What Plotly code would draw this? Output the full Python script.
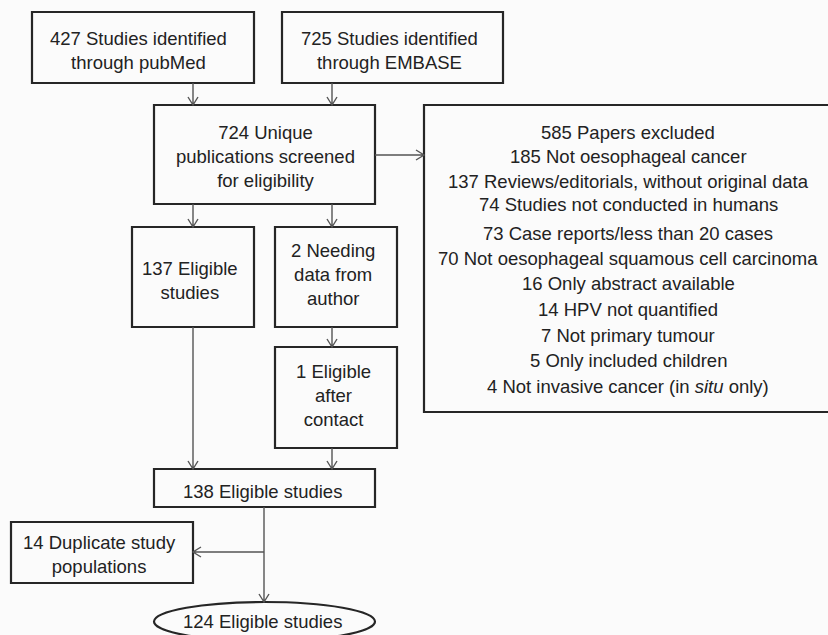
import plotly.graph_objects as go

# ---- content (text of the flow diagram) ----
pubmed_text = ["427 Studies identified", "through pubMed"]
embase_text = ["725 Studies identified", "through EMBASE"]
unique_text = ["724 Unique", "publications screened", "for eligibility"]
elig137_text = ["137 Eligible", "studies"]
needing_text = ["2 Needing", "data from", "author"]
after_text = ["1 Eligible", "after", "contact"]
elig138_text = ["138 Eligible studies"]
dup_text = ["14 Duplicate study", "populations"]
final_text = ["124 Eligible studies"]
excluded_lines = [
    "585 Papers excluded",
    "185 Not oesophageal cancer",
    "137 Reviews/editorials, without original data",
    "74 Studies not conducted in humans",
    "73 Case reports/less than 20 cases",
    "70 Not oesophageal squamous cell carcinoma",
    "16 Only abstract available",
    "14 HPV not quantified",
    "7 Not primary tumour",
    "5 Only included children",
    "4 Not invasive cancer (in <i>situ</i> only)",
]

# ---- layout geometry (pixels) ----
W, H = 828, 635
boxes = {
    "pubmed": dict(x0=32, y0=12, x1=254, y1=83, tx=138, ty=50, text=pubmed_text),
    "embase": dict(x0=282, y0=12, x1=503, y1=83, tx=389, ty=50, text=embase_text),
    "unique": dict(x0=154, y0=105, x1=375, y1=204, tx=265, ty=156, text=unique_text),
    "elig137": dict(x0=132, y0=227, x1=254, y1=327, tx=190, ty=280, text=elig137_text),
    "needing": dict(x0=275, y0=227, x1=397, y1=327, tx=333, ty=274, text=needing_text),
    "after": dict(x0=275, y0=347, x1=397, y1=448, tx=333, ty=395, text=after_text),
    "elig138": dict(x0=154, y0=469, x1=375, y1=507, tx=262, ty=491, text=elig138_text),
    "dup": dict(x0=11, y0=522, x1=193, y1=583, tx=99, ty=554, text=dup_text),
}
excl_box = dict(x0=424, y0=105, x1=834, y1=412)
excl_x = 628
excl_y = [132, 156, 181, 204, 233, 258, 283, 309, 335, 360, 386]
ellipse = dict(x0=154, y0=602, x1=375, y1=641, tx=262, ty=621)

FONT = "Liberation Sans, Arial, Helvetica, sans-serif"
FS = 18.5
TXT = "#222222"
BORDER = "#262626"
ARROW = "#555555"
BG = "#fbfbfb"

fig = go.Figure()
shapes = []
annotations = []

for b in boxes.values():
    shapes.append(dict(type="rect", x0=b["x0"], y0=b["y0"], x1=b["x1"], y1=b["y1"],
                       line=dict(color=BORDER, width=2.2), fillcolor=BG, layer="below"))
    annotations.append(dict(x=b["tx"], y=b["ty"], text="<br>".join(b["text"]),
                            showarrow=False, xanchor="center", yanchor="middle",
                            font=dict(family=FONT, size=FS, color=TXT)))

shapes.append(dict(type="rect", **excl_box, line=dict(color=BORDER, width=2.2),
                   fillcolor=BG, layer="below"))
for line, y in zip(excluded_lines, excl_y):
    annotations.append(dict(x=excl_x, y=y, text=line, showarrow=False,
                            xanchor="center", yanchor="middle",
                            font=dict(family=FONT, size=FS, color=TXT)))

shapes.append(dict(type="circle", x0=ellipse["x0"], y0=ellipse["y0"], x1=ellipse["x1"],
                   y1=ellipse["y1"], line=dict(color=BORDER, width=2.2), fillcolor=BG,
                   layer="below"))
annotations.append(dict(x=ellipse["tx"], y=ellipse["ty"], text=final_text[0],
                        showarrow=False, xanchor="center", yanchor="middle",
                        font=dict(family=FONT, size=FS, color=TXT)))


def arrow(xa, ya, xb, yb, head=True):
    path = f"M{xa},{ya} L{xb},{yb}"
    if head:
        hl, hw = 8, 5
        if xa == xb:
            d = 1 if yb > ya else -1
            path += f" M{xb-hw},{yb-d*hl} L{xb},{yb} L{xb+hw},{yb-d*hl}"
        else:
            d = 1 if xb > xa else -1
            path += f" M{xb-d*hl},{yb-hw} L{xb},{yb} L{xb-d*hl},{yb+hw}"
    shapes.append(dict(type="path", path=path, line=dict(color=ARROW, width=1.4)))


B = boxes
arrow(193, B["pubmed"]["y1"], 193, B["unique"]["y0"])
arrow(332, B["embase"]["y1"], 332, B["unique"]["y0"])
arrow(193, B["unique"]["y1"], 193, B["elig137"]["y0"])
arrow(332, B["unique"]["y1"], 332, B["needing"]["y0"])
arrow(332, B["needing"]["y1"], 332, B["after"]["y0"])
arrow(332, B["after"]["y1"], 332, B["elig138"]["y0"])
arrow(193, B["elig137"]["y1"], 193, B["elig138"]["y0"])
arrow(B["unique"]["x1"], 155, excl_box["x0"], 155)
arrow(264, B["elig138"]["y1"], 264, ellipse["y0"])
arrow(264, 552, B["dup"]["x1"], 552)

fig.update_layout(
    width=W, height=H,
    margin=dict(l=0, r=0, t=0, b=0),
    paper_bgcolor=BG, plot_bgcolor=BG,
    xaxis=dict(range=[0, W], visible=False, fixedrange=True),
    yaxis=dict(range=[H, 0], visible=False, fixedrange=True),
    shapes=shapes, annotations=annotations, showlegend=False,
)
fig.write_html(
    "out.html",
    config={"displayModeBar": False},
    post_script="document.body.style.margin='0';document.body.style.overflow='hidden';document.body.style.background='#fbfbfb';",
)
